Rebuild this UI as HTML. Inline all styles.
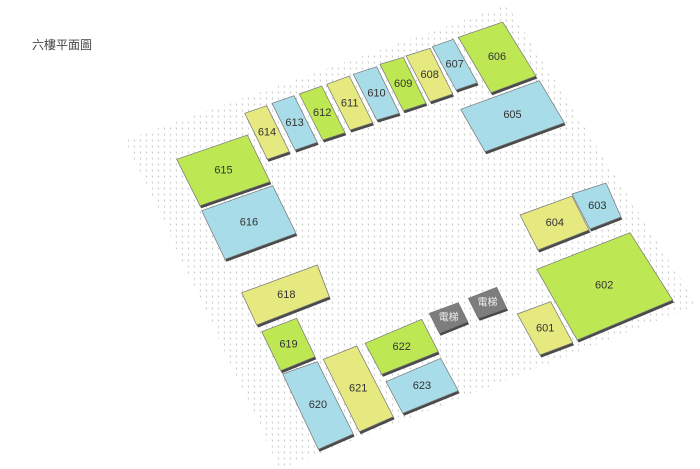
<!DOCTYPE html>
<html><head><meta charset="utf-8"><style>
html,body{margin:0;padding:0;background:#fff;width:700px;height:469px;overflow:hidden}
svg{display:block}
text{font-family:"Liberation Sans","Noto Sans CJK TC",sans-serif;font-size:11px;fill:#333;text-anchor:middle;dominant-baseline:central}
</style></head><body>
<svg width="700" height="469" viewBox="0 0 700 469" xmlns="http://www.w3.org/2000/svg">
<defs>
<pattern id="dots" width="6" height="6" patternUnits="userSpaceOnUse">
<line x1="2" y1="1.5" x2="2.8" y2="3.5" stroke="#c4c4c4" stroke-width="1"/>
</pattern>
<polygon id="p615" points="176.7,159.3 247.3,135 270,181.7 200,205.7"/>
<polygon id="p616" points="201.7,210.7 272.7,185.7 296,233.3 225,259.3"/>
<polygon id="p614" points="244.7,113.3 266.7,105.7 289.3,151.7 267.3,159.3"/>
<polygon id="p613" points="272,103.3 294,95.7 317.3,142.3 295,150"/>
<polygon id="p612" points="299.3,94 321.7,86 345,132.7 322.7,140"/>
<polygon id="p611" points="326.7,84.3 349.3,76 372.7,122.7 350,130"/>
<polygon id="p610" points="353.3,74.3 376.7,66.7 399.3,113.3 376.7,120"/>
<polygon id="p609" points="380,64.3 403.3,57.3 426,103.3 403.3,110.7"/>
<polygon id="p608" points="406,56 430,48.3 452.7,94 430,101.7"/>
<polygon id="p607" points="432.3,46.7 453.3,39.3 477.3,82.7 456,90"/>
<polygon id="p606" points="458.3,37.3 502.7,22 536,76 491,92.7"/>
<polygon id="p605" points="460.7,109.3 539.3,80.7 564.3,122.7 485,151.7"/>
<polygon id="p604" points="520,215 572,196 589,230 538,250"/>
<polygon id="p603" points="572,194 606,183 621,217 590,229"/>
<polygon id="p618" points="241.7,292.7 317.3,265 329.3,296.7 256.7,325"/>
<polygon id="p619" points="261.7,331.7 296.7,318.3 315,356.7 280.7,370.7"/>
<polygon id="p620" points="282.7,374 317.3,361.7 353.3,434 318.3,449.3"/>
<polygon id="p621" points="323.3,359.3 356.7,346 393.3,416.7 359.3,431.7"/>
<polygon id="p622" points="365,343.3 421.7,319.3 438.3,351.7 381.7,374.3"/>
<polygon id="p623" points="386,381.7 440.7,358.3 458.3,390.7 402.7,413.3"/>
<polygon id="pe1" points="429.3,313.3 458.3,302.7 467.7,321.7 439.3,333.3"/>
<polygon id="pe2" points="468.3,298.3 496.7,287.3 506.7,308.3 478.3,318.3"/>
<polygon id="p601" points="517.3,314 550.7,301.7 572.7,342.7 540,355"/>
<polygon id="p602" points="536.7,269.3 630,232.7 672.7,300 577.3,340"/>
</defs>
<text x="62" y="45" style="font-size:12px;fill:#444">六樓平面圖</text>
<polygon points="125,140 507,5 697,305 280,469" fill="url(#dots)"/>
<g transform="translate(1.3,2.5)" fill="#4a4a4a">
<use href="#p615"/><use href="#p616"/><use href="#p614"/><use href="#p613"/><use href="#p612"/><use href="#p611"/><use href="#p610"/><use href="#p609"/><use href="#p608"/><use href="#p607"/><use href="#p606"/><use href="#p605"/><use href="#p604"/><use href="#p603"/><use href="#p618"/><use href="#p619"/><use href="#p620"/><use href="#p621"/><use href="#p622"/><use href="#p623"/><use href="#pe1"/><use href="#pe2"/><use href="#p601"/><use href="#p602"/>
</g>
<g stroke="#777" stroke-width="0.7">
<use href="#p615" fill="#bde854"/><use href="#p616" fill="#a9dce9"/><use href="#p614" fill="#e6e880"/><use href="#p613" fill="#a9dce9"/><use href="#p612" fill="#bde854"/><use href="#p611" fill="#e6e880"/><use href="#p610" fill="#a9dce9"/><use href="#p609" fill="#bde854"/><use href="#p608" fill="#e6e880"/><use href="#p607" fill="#a9dce9"/><use href="#p606" fill="#bde854"/><use href="#p605" fill="#a9dce9"/><use href="#p604" fill="#e6e880"/><use href="#p603" fill="#a9dce9"/><use href="#p618" fill="#e6e880"/><use href="#p619" fill="#bde854"/><use href="#p620" fill="#a9dce9"/><use href="#p621" fill="#e6e880"/><use href="#p622" fill="#bde854"/><use href="#p623" fill="#a9dce9"/><use href="#pe1" fill="#7d7d7d"/><use href="#pe2" fill="#7d7d7d"/><use href="#p601" fill="#e6e880"/><use href="#p602" fill="#bde854"/>
</g>
<text x="223.5" y="170.4">615</text>
<text x="248.9" y="222.3">616</text>
<text x="267" y="132.5">614</text>
<text x="294.6" y="122.8">613</text>
<text x="322.2" y="113.2">612</text>
<text x="349.7" y="103.3">611</text>
<text x="376.5" y="93.6">610</text>
<text x="403.2" y="83.9">609</text>
<text x="429.7" y="75">608</text>
<text x="454.7" y="64.7">607</text>
<text x="497" y="57">606</text>
<text x="512.5" y="115">605</text>
<text x="554.8" y="222.8">604</text>
<text x="597.3" y="205.8">603</text>
<text x="286.3" y="294.9">618</text>
<text x="288.5" y="344.4">619</text>
<text x="317.9" y="404.8">620</text>
<text x="358.2" y="388.4">621</text>
<text x="401.7" y="347.2">622</text>
<text x="421.9" y="386">623</text>
<text x="448.7" y="317.8" style="fill:#eee;font-size:10px">電梯</text>
<text x="487.5" y="303.1" style="fill:#eee;font-size:10px">電梯</text>
<text x="545.2" y="328.4">601</text>
<text x="604.2" y="285.5">602</text>
</svg>
</body></html>
